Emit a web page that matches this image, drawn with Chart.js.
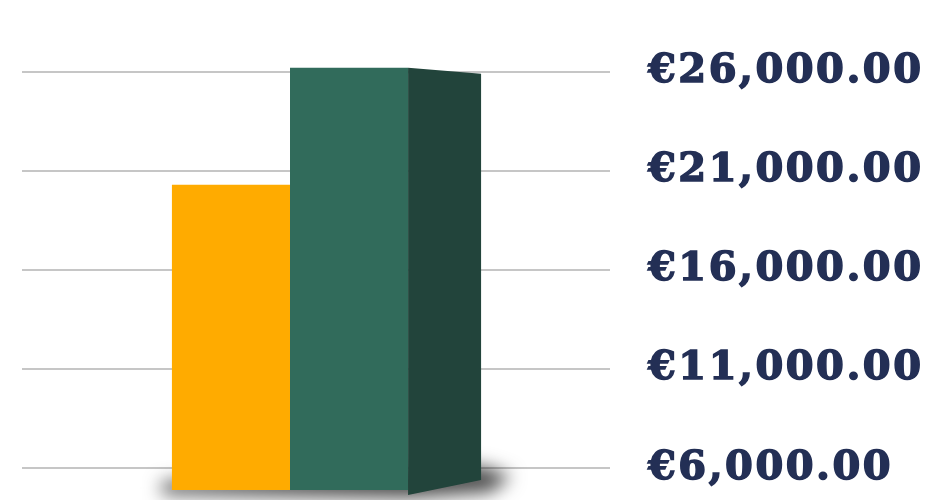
<!DOCTYPE html>
<html>
<head>
<meta charset="utf-8">
<script src="https://cdn.jsdelivr.net/npm/chart.js@4.4.1/dist/chart.umd.min.js"></script>
<style>
  html, body { margin: 0; padding: 0; background: #fff; }
  #wrap { width: 932px; height: 500px; }
</style>
</head>
<body>
<div id="wrap"><canvas id="myChart"></canvas></div>
<script>
// values
const categories = ['Total'];
const seriesNames = ['A', 'B'];
const seriesA = [20300];
const seriesB = [26200];
const yTicks = [6000, 11000, 16000, 21000, 26000];

const orange = '#FFAB00';
const green = '#316B5B';
const greenSide = '#22443B';
const labelColor = '#232F55';

// the bar group sits left of the plot centre in the original,
// so stretch the x scale past the left edge a bit
const shiftPlugin = {
    id: 'shift',
    afterLayout(chart) {
        const x = chart.scales.x;
        x.left = chart.chartArea.left - 52;
        x.configure();
    },
    beforeDraw(chart) {
        chart.ctx.letterSpacing = '2.5px';
    }
};

// side face + soft floor shadow to fake the 3d look
const depthPlugin = {
    id: 'depth',
    beforeDatasetsDraw(chart) {
        const ctx = chart.ctx;
        const a = chart.getDatasetMeta(0).data[0];
        const b = chart.getDatasetMeta(1).data[0];
        if (!a || !b) return;
        const y0 = chart.scales.y.getPixelForValue(chart.scales.y.min);
        const left = a.x - a.width / 2;
        const br = b.x + b.width / 2;
        const right = br + 73;
        const off = 3000; // draw the shape off canvas, keep only its shadow
        ctx.save();
        ctx.shadowColor = 'rgba(0,0,0,0.7)';
        ctx.shadowBlur = 18;
        ctx.shadowOffsetX = -off;
        ctx.fillStyle = '#000';
        ctx.beginPath();
        ctx.moveTo(left - 10 + off, y0 - 8);
        ctx.lineTo(right + off, y0 - 24);
        ctx.lineTo(right + 30 + off, y0 - 14);
        ctx.lineTo(right + 10 + off, y0 + 2);
        ctx.lineTo(br + off, y0 + 8);
        ctx.lineTo(left - 10 + off, y0 + 4);
        ctx.closePath();
        ctx.fill();
        ctx.restore();
    },
    afterDatasetsDraw(chart) {
        const ctx = chart.ctx;
        const b = chart.getDatasetMeta(1).data[0];
        if (!b) return;
        const y0 = chart.scales.y.getPixelForValue(chart.scales.y.min);
        const r = b.x + b.width / 2;
        ctx.save();
        ctx.fillStyle = greenSide;
        ctx.beginPath();
        ctx.moveTo(r, b.y);
        ctx.lineTo(r + 73, b.y + 6);
        ctx.lineTo(r + 73, y0 - 10);
        ctx.lineTo(r, y0 + 5);
        ctx.closePath();
        ctx.fill();
        ctx.restore();
    }
};

const data = {
    labels: categories,
    datasets: [{
        label: seriesNames[0],
        data: seriesA,
        backgroundColor: orange,
        borderWidth: 0
    }, {
        label: seriesNames[1],
        data: seriesB,
        backgroundColor: green,
        borderWidth: 0
    }]
};

const config = {
    type: 'bar',
    data,
    options: {
        responsive: true,
        maintainAspectRatio: false,
        animation: false,
        layout: {
            padding: { left: 22, right: 5, top: 40, bottom: 10 }
        },
        datasets: {
            bar: { categoryPercentage: 0.369, barPercentage: 1 }
        },
        plugins: {
            legend: { display: false },
            tooltip: { enabled: false }
        },
        scales: {
            x: { display: false },
            y: {
                position: 'right',
                min: 4900,
                max: 27600,
                afterBuildTicks: (scale) => {
                    scale.ticks = yTicks.map(v => ({ value: v }));
                },
                afterFit: (scale) => {
                    scale.width = 317;
                    scale.paddingTop = 0;
                    scale.paddingBottom = 0;
                },
                border: { display: false },
                grid: {
                    color: '#c6c6c6',
                    lineWidth: 2,
                    drawTicks: false
                },
                ticks: {
                    padding: 38,
                    color: labelColor,
                    textStrokeColor: labelColor,
                    textStrokeWidth: 1.5,
                    font: { family: 'DejaVu Serif', size: 40, weight: 'bold' },
                    callback: (v) => '€' + Number(v).toLocaleString('en-US', { minimumFractionDigits: 2, maximumFractionDigits: 2 })
                }
            }
        }
    },
    plugins: [shiftPlugin, depthPlugin]
};

const myChart = new Chart(document.getElementById('myChart'), config);
</script>
</body>
</html>
